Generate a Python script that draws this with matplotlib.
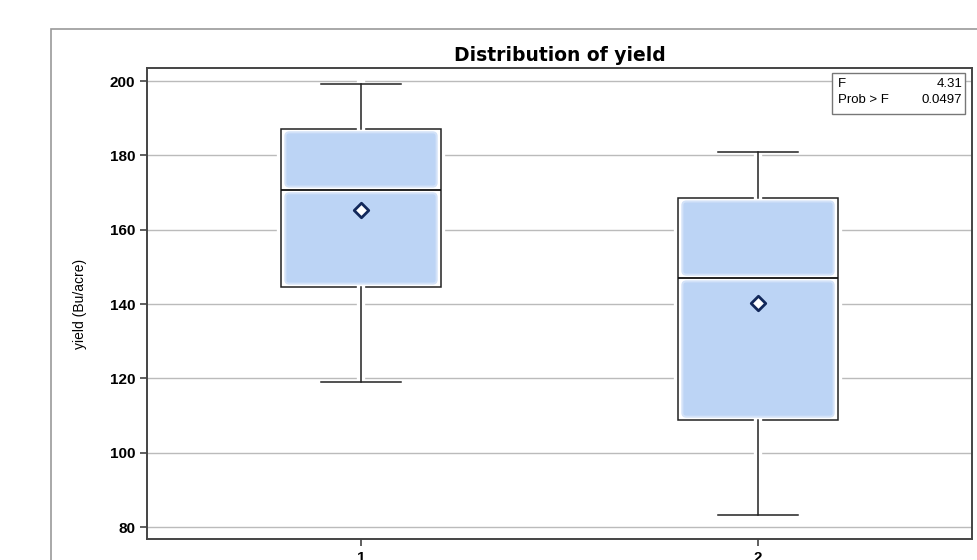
import numpy as np
import matplotlib
matplotlib.use("Agg")
import matplotlib.pyplot as plt
import matplotlib.patheffects as pe
from matplotlib.patches import FancyBboxPatch, Rectangle

plt.rcParams['font.family'] = ['Liberation Sans', 'DejaVu Sans']

# Box plot summary values
groups = [1, 2]
whisker_low = [119.0, 83.2]
q1 = [144.6, 108.8]
medians = [170.7, 147.0]
q3 = [187.1, 168.5]
whisker_high = [199.3, 180.9]
means = [165.3, 140.3]

f_value = "4.31"
prob_f = "0.0497"

fig = plt.figure(figsize=(9.78, 5.6), dpi=100)

# outer gray frame (runs off the bottom/right of the image)
fig.patches.append(Rectangle((51 / 978, -0.2), 1.2, 1.2 - 29 / 560,
                             transform=fig.transFigure, fill=False,
                             edgecolor='#999999', linewidth=1.2))

ax = fig.add_axes([147 / 978, 21 / 560, 825 / 978, 471 / 560])

stats = []
for i in range(len(groups)):
    stats.append(dict(whislo=whisker_low[i], q1=q1[i], med=medians[i],
                      q3=q3[i], whishi=whisker_high[i], mean=means[i],
                      label=str(groups[i])))

# white halo so the grid lines break around the boxes
halo = [pe.Stroke(linewidth=6, foreground='white'), pe.Normal()]

box_w = 0.403
ax.bxp(stats, positions=groups, widths=box_w, capwidths=box_w / 2,
       showmeans=False, patch_artist=True, showfliers=False,
       boxprops=dict(facecolor='white', edgecolor='#222222', linewidth=1.1,
                     path_effects=halo),
       medianprops=dict(color='#111111', linewidth=1.3),
       whiskerprops=dict(color='#222222', linewidth=1.1, path_effects=halo),
       capprops=dict(color='#222222', linewidth=1.1),
       zorder=3)

# light blue inner fill, split at the median
pad_x = 0.011
pad_y = 0.9
for i, x in enumerate(groups):
    for lo, hi in [(q1[i], medians[i]), (medians[i], q3[i])]:
        ax.add_patch(FancyBboxPatch((x - box_w / 2 + pad_x, lo + pad_y),
                                    box_w - 2 * pad_x, hi - lo - 2 * pad_y,
                                    boxstyle="round,pad=0,rounding_size=0.01",
                                    mutation_aspect=100,
                                    facecolor='#bcd4f5', edgecolor='#d3e2f8',
                                    linewidth=1.5, zorder=3.5))

ax.scatter(groups, means, marker='D', s=55, facecolor='white',
           edgecolor='#12285a', linewidth=2, zorder=5)

ax.set_xlim(0.461, 2.539)
ax.set_ylim(76.8, 203.5)
ax.set_yticks([80, 100, 120, 140, 160, 180, 200])
ax.set_xticks(groups)
ax.set_xticklabels([str(g) for g in groups])
ax.yaxis.grid(True, color='#bbbbbb', linewidth=1)
ax.set_axisbelow(True)

for s in ax.spines.values():
    s.set_color('#444444')
    s.set_linewidth(1.4)
ax.tick_params(axis='both', colors='#444444', length=5, width=1.2,
               labelcolor='black', labelsize=11)
for lab in ax.get_yticklabels() + ax.get_xticklabels():
    lab.set_fontweight('bold')

ax.set_ylabel('yield (Bu/acre)', fontsize=10, labelpad=16)
ax.set_title('Distribution of yield', fontsize=13.5, fontweight='bold',
             family=['DejaVu Sans'], pad=5)

ax.text(0.837, 0.978, 'F\nProb > F', transform=ax.transAxes, fontsize=9.5,
        va='top', ha='left', linespacing=1.45, zorder=7)
ax.text(0.988, 0.978, f'{f_value}\n{prob_f}', transform=ax.transAxes,
        fontsize=9.5, va='top', ha='right', linespacing=1.45, zorder=7)
ax.add_patch(Rectangle((0.8305, 0.903), 0.1605, 0.086, transform=ax.transAxes,
                       facecolor='white', edgecolor='#777777', linewidth=1,
                       zorder=6))

fig.savefig('out.png', dpi=100)
